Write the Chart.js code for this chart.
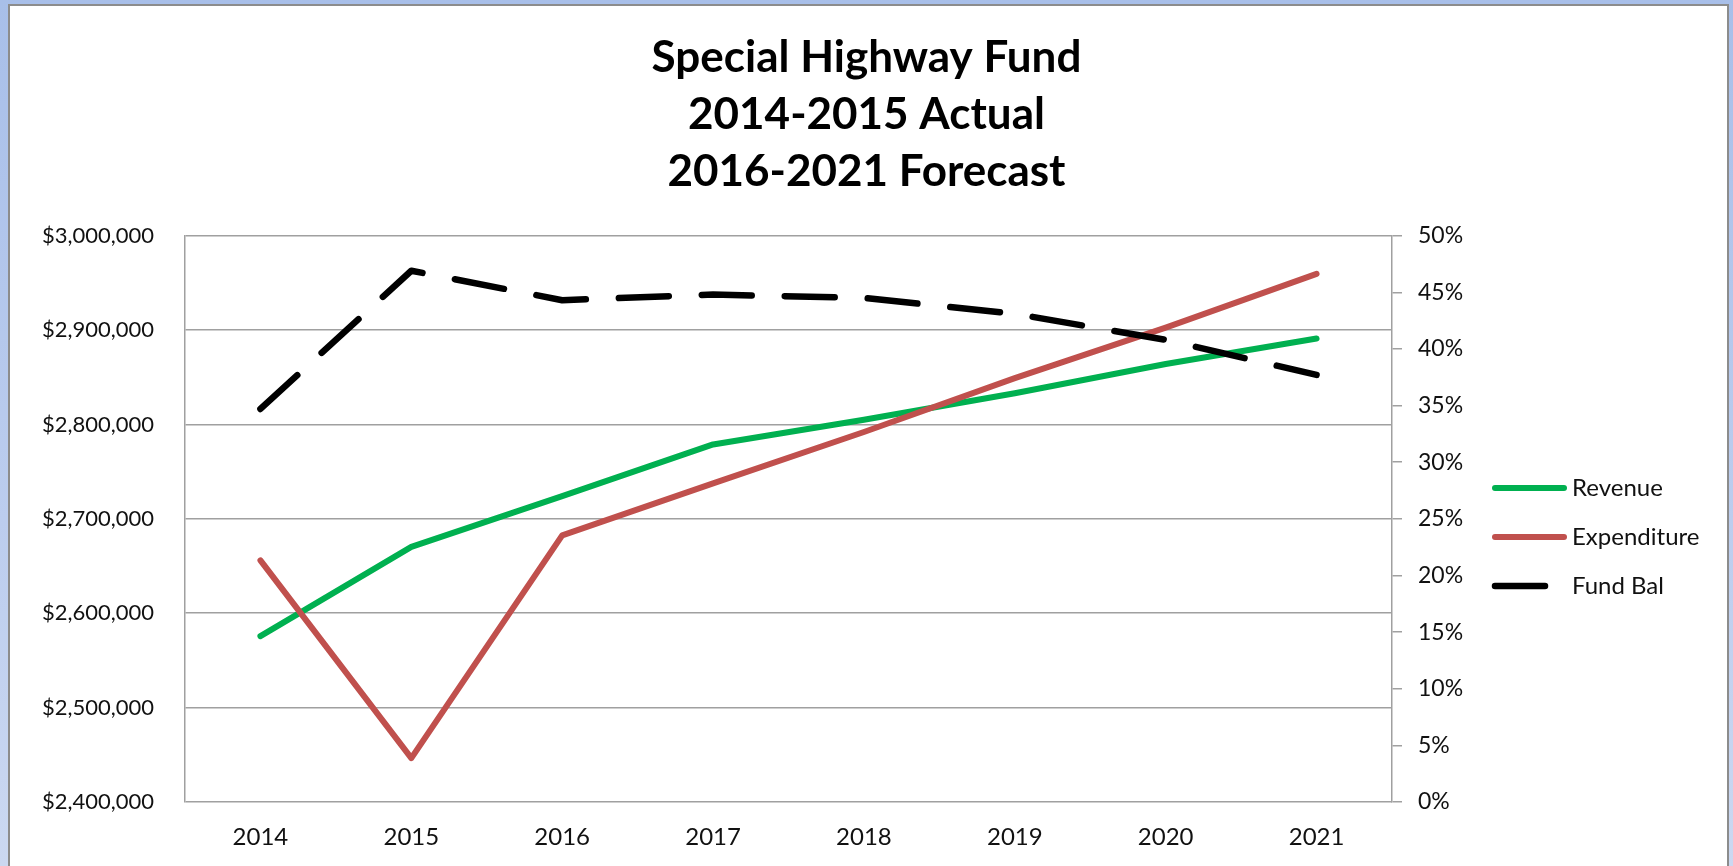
<!DOCTYPE html>
<html>
<head>
<meta charset="utf-8">
<title>Special Highway Fund</title>
<script src="https://cdn.jsdelivr.net/npm/chart.js@4.4.1/dist/chart.umd.min.js"></script>
<style>
  html, body { margin: 0; padding: 0; }
  body {
    width: 1733px; height: 866px; overflow: hidden; position: relative;
    background: linear-gradient(to bottom, #a8bfe9 0%, #bccdee 60%, #cbd8f1 100%);
  }
  #panel {
    position: absolute; left: 8px; top: 4px; width: 1717px; height: 900px;
    background: #fff; border: 2px solid #8c8c8c;
  }
  #chart { position: absolute; left: 0; top: 0; }
</style>
</head>
<body>
<div id="panel"></div>
<canvas id="chart" width="1733" height="866"></canvas>
<script>
const titleLines = ["Special Highway Fund", "2014-2015 Actual", "2016-2021 Forecast"];
const years = ["2014", "2015", "2016", "2017", "2018", "2019", "2020", "2021"];
const revenue = [2575700, 2670200, 2724000, 2778800, 2805000, 2833000, 2864000, 2891000];
const expenditure = [2656000, 2446500, 2682500, 2737500, 2792000, 2849000, 2902500, 2959500];
const fundBal = [34.7, 46.9, 44.3, 44.8, 44.5, 43.1, 40.8, 37.7]; // percent

const FONT = "Lato, 'Noto Sans', sans-serif";

// legend drawn at the right of the right axis labels
const sideLegend = {
    id: "sideLegend",
    afterDraw(chart) {
        const ctx = chart.ctx;
        const x0 = chart.chartArea.right + 103;
        const x1 = x0 + 69;
        const rows = [488, 537, 586];
        ctx.save();
        chart.data.datasets.forEach((ds, i) => {
            const y = rows[i];
            ctx.beginPath();
            ctx.lineCap = "round";
            ctx.lineWidth = ds.borderWidth;
            ctx.strokeStyle = ds.borderColor;
            ctx.setLineDash(ds.borderDash || []);
            ctx.moveTo(x0, y);
            ctx.lineTo(x1, y);
            ctx.stroke();
            ctx.setLineDash([]);
            ctx.fillStyle = "#111";
            ctx.font = "24px " + FONT;
            ctx.textBaseline = "middle";
            ctx.textAlign = "left";
            ctx.fillText(ds.label, x1 + 8, y);
        });
        ctx.restore();
    }
};

new Chart(document.getElementById("chart"), {
    type: "line",
    data: {
        labels: years,
        datasets: [{
            label: "Revenue",
            data: revenue,
            borderColor: "#00b050",
            backgroundColor: "#00b050",
            borderWidth: 6,
            yAxisID: "y",
            order: 3
        }, {
            label: "Expenditure",
            data: expenditure,
            borderColor: "#c0504d",
            backgroundColor: "#c0504d",
            borderWidth: 6,
            yAxisID: "y",
            order: 2
        }, {
            label: "Fund Bal",
            data: fundBal,
            borderColor: "#000000",
            backgroundColor: "#000000",
            borderWidth: 6.5,
            borderDash: [50, 33],
            yAxisID: "y1",
            order: 1
        }]
    },
    options: {
        responsive: false,
        animation: false,
        devicePixelRatio: 1,
        layout: { padding: 0 },
        elements: {
            point: { radius: 0, hoverRadius: 0 },
            line: { tension: 0, borderCapStyle: "round", borderJoinStyle: "round" }
        },
        plugins: {
            legend: { display: false },
            tooltip: { enabled: false },
            title: {
                display: true,
                text: titleLines,
                color: "#000",
                font: { family: FONT, size: 44, weight: "bold", lineHeight: 1.285 },
                padding: { top: 30, bottom: 36 }
            }
        },
        scales: {
            x: {
                offset: true,
                afterFit(scale) { scale.height = 64; },
                grid: { display: false, drawTicks: false },
                border: { display: false },
                ticks: { color: "#111", padding: 21, font: { family: FONT, size: 24 } }
            },
            y: {
                position: "left",
                min: 2400000,
                max: 3000000,
                afterFit(scale) { scale.width = 185; },
                grid: { color: "#a0a0a0", lineWidth: 1.5, drawTicks: false },
                border: { display: true, color: "#a0a0a0", width: 1.5 },
                ticks: {
                    stepSize: 100000,
                    padding: 31,
                    color: "#111",
                    font: { family: FONT, size: 22 },
                    callback: v => "$" + v.toLocaleString("en-US")
                }
            },
            y1: {
                position: "right",
                min: 0,
                max: 50,
                afterFit(scale) { scale.width = 341; },
                grid: { drawOnChartArea: false, drawTicks: true, tickLength: 10, color: "#a0a0a0", lineWidth: 1.5 },
                border: { display: true, color: "#a0a0a0", width: 1.5 },
                ticks: {
                    stepSize: 5,
                    padding: 16,
                    color: "#111",
                    font: { family: FONT, size: 23 },
                    callback: v => v + "%"
                }
            }
        }
    },
    plugins: [sideLegend]
});
</script>
</body>
</html>
